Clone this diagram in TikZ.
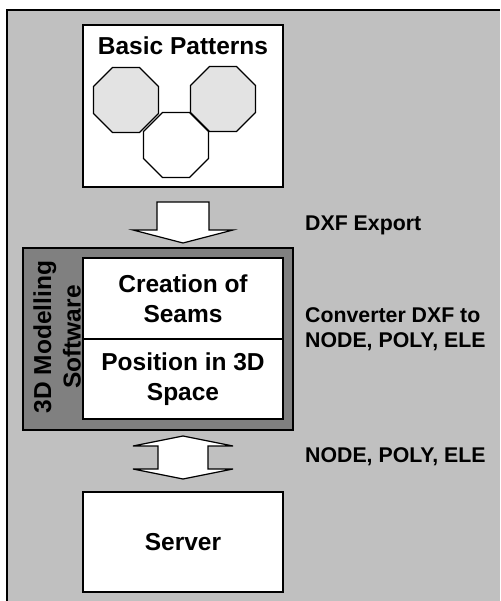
\documentclass[tikz,border=0pt]{standalone}
\usepackage{fontspec}
\setmainfont{Liberation Sans}
\usetikzlibrary{shapes.geometric}
\definecolor{panelgray}{HTML}{C0C0C0}
\definecolor{swgray}{HTML}{808080}
\definecolor{patfill}{HTML}{E3E3E3}
\tikzset{
  boxtext/.style={font=\bfseries\fontsize{24.5}{29.5}\selectfont, align=center},
  labeltext/.style={font=\bfseries\fontsize{21.3}{25}\selectfont, align=left, inner sep=0pt, anchor=base west},
  whitebox/.style={draw=black, line width=1.5pt, fill=white, inner sep=0pt, outer sep=0pt},
  octagon/.style={regular polygon, regular polygon sides=8, minimum size=70.4pt, inner sep=0pt, draw=black, line width=1.3pt},
  blockarrow/.style={draw=black, line width=1.2pt, fill=white, line join=miter},
}
\begin{document}
\begin{tikzpicture}[x=1pt, y=-1pt]
  \useasboundingbox (0,0) rectangle (500,601);
  % outer panel
  \fill[panelgray] (7,10) rectangle (500,601);
  \draw[line width=2pt] (7,601) -- (7,10) -- (500,10);

  % basic patterns
  \node[whitebox, minimum width=200pt, minimum height=162pt] (patterns) at (183,106) {};
  \node[boxtext, anchor=base] (ptitle) at (183,55) {Basic Patterns};
  \node[octagon, fill=patfill] (oct1) at (126,100) {};
  \node[octagon, fill=white] (oct2) at (176,145) {};
  \node[octagon, fill=patfill] (oct3) at (223,99) {};

  % 3D modelling software
  \node[draw=black, line width=1.5pt, fill=swgray, minimum width=270pt, minimum height=182pt, inner sep=0pt] (software) at (158,339) {};
  \node[whitebox, boxtext, minimum width=200pt, minimum height=81pt] (seams) at (183,298.5) {Creation of\\Seams};
  \node[whitebox, boxtext, minimum width=200pt, minimum height=80pt] (position) at (183,379) {Position in 3D\\Space};
  \node[boxtext, rotate=90, inner sep=0pt] (swlabel) at (57,337) {3D Modelling\\Software};

  % server
  \node[whitebox, boxtext, minimum width=200pt, minimum height=100pt] (server) at (183,542) {Server};

  % block arrows
  \coordinate (exportarrow) at (183,243);
  \draw[blockarrow, shift={(exportarrow)}]
    (-26,-41) -- (26,-41) -- (26,-13) -- (50,-13) -- (0,0) -- (-50,-13) -- (-26,-13) -- cycle;
  \coordinate (linkarrow) at (183,457.5);
  \draw[blockarrow, shift={(linkarrow)}]
    (0,-21.5) -- (50,-11.5) -- (25,-11.5) -- (25,11.5) -- (50,11.5) -- (0,21.5)
    -- (-50,11.5) -- (-25,11.5) -- (-25,-11.5) -- (-50,-11.5) -- cycle;

  % side labels
  \node[labeltext] (dxf) at (305,230) {DXF Export};
  \node[labeltext] (conv) at (305,347) {Converter DXF to\\NODE, POLY, ELE};
  \node[labeltext] (formats) at (305,462) {NODE, POLY, ELE};
\end{tikzpicture}
\end{document}
